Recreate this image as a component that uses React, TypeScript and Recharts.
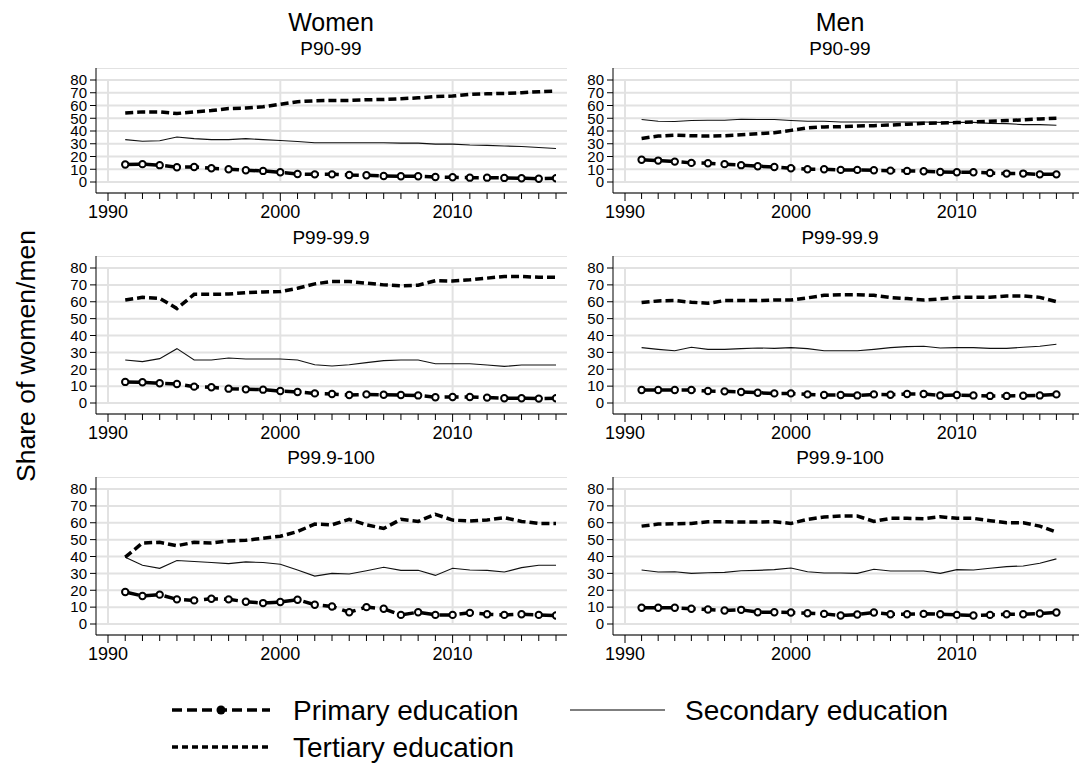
import React from 'react';
import { LineChart, Line, XAxis, YAxis, CartesianGrid, ReferenceLine } from 'recharts';

const FONT = '"Liberation Sans", Arial, Helvetica, sans-serif';

const years = [
  1991, 1992, 1993, 1994, 1995, 1996, 1997, 1998, 1999, 2000, 2001, 2002, 2003,
  2004, 2005, 2006, 2007, 2008, 2009, 2010, 2011, 2012, 2013, 2014, 2015, 2016,
];
const yTicks = [0, 10, 20, 30, 40, 50, 60, 70, 80];
const decadeTicks = [1990, 2000, 2010];
const yearTicks = [
  1990, 1991, 1992, 1993, 1994, 1995, 1996, 1997, 1998, 1999, 2000, 2001, 2002, 2003,
  2004, 2005, 2006, 2007, 2008, 2009, 2010, 2011, 2012, 2013, 2014, 2015, 2016, 2017,
];

// Women, P90-99
const womenP90Primary = [13.7, 14, 13.2, 11.6, 11.8, 10.8, 10, 9.2, 8.7, 7.6, 6.3, 6, 6, 5.5, 5.3, 4.7, 4.5, 4.5, 3.9, 3.7, 3.4, 3.4, 3.2, 2.9, 2.6, 2.9];
const womenP90Secondary = [33.2, 32, 32.4, 35.3, 34, 33.2, 33.2, 34, 33.2, 32.6, 31.8, 30.8, 30.8, 30.8, 30.8, 30.8, 30.5, 30.5, 29.7, 29.7, 29, 28.7, 28.2, 27.9, 27.1, 26.3];
const womenP90Tertiary = [54.2, 55, 55, 53.7, 55, 56, 57.6, 58, 59, 61, 63, 63.7, 64, 64, 64.5, 64.7, 65.3, 66, 67, 67.4, 68.7, 69.2, 69.5, 70, 70.8, 71.3];

// Men, P90-99
const menP90Primary = [17.4, 16.8, 16, 15, 14.7, 14, 13.2, 12.4, 11.8, 10.8, 10, 10, 9.5, 9.5, 9.2, 8.9, 8.7, 8.4, 7.9, 7.6, 7.6, 7.1, 6.6, 6.6, 6, 6];
const menP90Secondary = [49, 47.6, 47.4, 48.2, 48.4, 48.4, 49.2, 49, 49, 48.2, 47.6, 47.6, 47.1, 47.1, 47.1, 47.1, 47.1, 47.1, 46.8, 46.8, 46.8, 46, 45.8, 45, 45, 44.5];
const menP90Tertiary = [34.2, 36, 36.8, 36.3, 36, 36.3, 37, 37.9, 38.7, 40.5, 42.4, 43.2, 43.4, 43.9, 44.2, 44.7, 45.3, 46, 46.3, 46.6, 47.1, 47.6, 48.2, 48.7, 49.5, 50];

// Women, P99-99.9
const womenP99Primary = [12.5, 12.3, 11.7, 11.3, 9.7, 9.3, 8.5, 8.1, 7.9, 7.1, 6.5, 5.7, 5.3, 4.7, 5.1, 4.9, 4.7, 4.5, 3.4, 3.6, 3.6, 3.2, 2.8, 2.8, 2.6, 2.8];
const womenP99Secondary = [25.5, 24.5, 26.3, 32.2, 25.5, 25.5, 26.7, 26.1, 26.1, 26.1, 25.5, 22.7, 21.9, 22.7, 23.9, 25.1, 25.5, 25.5, 23.3, 23.3, 23.3, 22.5, 21.7, 22.5, 22.5, 22.5];
const womenP99Tertiary = [61, 62.6, 62, 56, 64.4, 64.4, 64.6, 65.4, 65.8, 66, 68, 70.6, 72, 72, 71, 70, 69.4, 69.8, 72.5, 72.3, 73, 74, 75, 75, 74.5, 74.5];

// Men, P99-99.9
const menP99Primary = [7.7, 7.7, 7.7, 7.7, 7.1, 6.9, 6.5, 6.1, 5.7, 5.7, 5.1, 4.7, 4.7, 4.5, 5.1, 4.9, 5.3, 5.3, 4.5, 4.7, 4.5, 4.2, 4.2, 4.3, 4.5, 5.1];
const menP99Secondary = [32.8, 31.8, 31, 33, 31.8, 31.8, 32.2, 32.6, 32.4, 32.8, 32.2, 31, 31, 31, 31.8, 32.8, 33.4, 33.6, 32.6, 32.8, 32.8, 32.4, 32.4, 33, 33.6, 34.8];
const menP99Tertiary = [59.5, 60.5, 60.7, 59.7, 59.1, 60.7, 60.7, 60.7, 61, 61, 62.3, 63.8, 64.2, 64.2, 63.8, 62.5, 61.9, 61, 61.7, 62.6, 62.6, 62.6, 63.4, 63.4, 62.6, 60.1];

// Women, P99.9-100
const womenTopPrimary = [19, 16.6, 17.4, 14.6, 14, 15, 14.6, 13.2, 12.4, 13, 14.4, 11.4, 10.4, 7, 10, 9, 5.4, 7, 5.4, 5.4, 6.6, 5.8, 5.4, 5.8, 5.4, 5];
const womenTopSecondary = [39.6, 34.8, 33, 37.6, 37, 36.4, 35.8, 36.8, 36.4, 35.4, 32, 28.4, 30, 29.6, 31.6, 33.6, 31.8, 31.8, 28.8, 33, 32, 31.8, 30.8, 33.4, 34.8, 34.8];
const womenTopTertiary = [39.6, 48, 48.4, 46.4, 48.4, 48, 49.2, 49.6, 50.8, 52, 54.8, 59.2, 58.8, 62, 58.8, 56.6, 62, 60.8, 65, 61.6, 61, 61.6, 63, 60.8, 59.6, 59.6];

// Men, P99.9-100
const menTopPrimary = [9.6, 9.6, 9.6, 9, 8.6, 8, 8.4, 7, 7, 6.8, 6.4, 6, 5, 5.6, 6.8, 5.8, 5.8, 6, 5.8, 5.4, 5, 5.4, 5.8, 5.8, 6.2, 6.8];
const menTopSecondary = [32, 30.8, 31, 30, 30.4, 30.6, 31.6, 31.8, 32.2, 33.2, 31, 30.2, 30.2, 30, 32.4, 31.4, 31.4, 31.4, 30, 32.2, 32, 33, 34, 34.4, 36, 38.6];
const menTopTertiary = [58, 59.2, 59.4, 59.6, 60.6, 60.6, 60.4, 60.4, 60.6, 59.6, 62, 63.4, 64, 64, 60.8, 62.6, 62.6, 62.4, 63.6, 62.6, 62.6, 61.2, 60, 60, 58, 54.4];

const GRID = '#e2e2e2';
const X_AXIS_H = 40;
const Y_AXIS_W = 56;

const buildRows = (primary: number[], secondary: number[], tertiary: number[]) =>
  years.map((year, i) => ({ year, primary: primary[i], secondary: secondary[i], tertiary: tertiary[i] }));

const YearTick = (props: any) => {
  const { x, y, payload } = props;
  const major = decadeTicks.includes(payload.value);
  return (
    <g>
      <line x1={x} x2={x} y1={y} y2={y + (major ? 8 : 6)} stroke="#000" strokeWidth={1} />
      {major && (
        <text x={x} y={y + 25} textAnchor="middle" fontSize={18} fontFamily={FONT} fill="#000">
          {payload.value}
        </text>
      )}
    </g>
  );
};

interface PanelProps {
  left: number;
  top: number;
  width: number;
  plotHeight: number;
  xMax: number;
  padRight: number;
  primary: number[];
  secondary: number[];
  tertiary: number[];
}

const Panel: React.FC<PanelProps> = ({ left, top, width, plotHeight, xMax, padRight, primary, secondary, tertiary }) => {
  const rows = buildRows(primary, secondary, tertiary);
  return (
    <div style={{ position: 'absolute', left, top }}>
      <LineChart width={width} height={plotHeight + X_AXIS_H} data={rows} margin={{ top: 0, right: 0, bottom: 0, left: 0 }}>
        <CartesianGrid vertical={false} stroke={GRID} strokeWidth={2} />
        {decadeTicks.map((d) => (
          <ReferenceLine key={d} segment={[{ x: d, y: 0 }, { x: d, y: 80 }]} stroke={GRID} strokeWidth={2} />
        ))}
        <XAxis
          type="number"
          dataKey="year"
          domain={[1990, xMax]}
          ticks={yearTicks.filter((t) => t <= xMax)}
          interval={0}
          padding={{ left: 12, right: padRight }}
          height={X_AXIS_H}
          tickSize={0}
          tickMargin={0}
          tickLine={false}
          tick={<YearTick />}
          axisLine={{ stroke: '#000' }}
          allowDataOverflow
        />
        <YAxis
          type="number"
          domain={[0, 80]}
          ticks={yTicks}
          interval={0}
          width={Y_AXIS_W}
          padding={{ top: 12, bottom: 11 }}
          tickSize={6}
          tickMargin={3}
          tick={{ fontSize: 15, fill: '#000', fontFamily: FONT }}
          tickLine={{ stroke: '#000' }}
          axisLine={{ stroke: '#000' }}
        />
        <Line dataKey="secondary" stroke="#111" strokeWidth={1.1} dot={false} isAnimationActive={false} />
        <Line dataKey="tertiary" stroke="#000" strokeWidth={3.5} strokeDasharray="8 4" dot={false} isAnimationActive={false} />
        <Line
          dataKey="primary"
          stroke="none"
          dot={{ r: 3.2, fill: '#fff', stroke: '#000', strokeWidth: 2 }}
          isAnimationActive={false}
        />
        <Line dataKey="primary" stroke="#000" strokeWidth={3.5} strokeDasharray="14 6" dot={false} isAnimationActive={false} />
      </LineChart>
    </div>
  );
};

const WOMEN_LEFT = 40;
const MEN_LEFT = 557;
const WOMEN_W = 527;
const MEN_W = 522;

export default function App() {
  return (
    <div style={{ position: 'absolute', left: 0, top: 0, width: 1079, height: 764, background: '#fff', fontFamily: FONT }}>
      <svg width={1079} height={764} style={{ position: 'absolute', left: 0, top: 0 }}>
        <text x={331} y={31} textAnchor="middle" fontSize={25} fontFamily={FONT}>Women</text>
        <text x={840} y={31} textAnchor="middle" fontSize={25} fontFamily={FONT}>Men</text>
        <text x={331} y={55} textAnchor="middle" fontSize={19} fontFamily={FONT}>P90-99</text>
        <text x={840} y={55} textAnchor="middle" fontSize={19} fontFamily={FONT}>P90-99</text>
        <text x={331} y={244} textAnchor="middle" fontSize={19} fontFamily={FONT}>P99-99.9</text>
        <text x={840} y={244} textAnchor="middle" fontSize={19} fontFamily={FONT}>P99-99.9</text>
        <text x={331} y={464} textAnchor="middle" fontSize={19} fontFamily={FONT}>P99.9-100</text>
        <text x={840} y={464} textAnchor="middle" fontSize={19} fontFamily={FONT}>P99.9-100</text>
        <text transform="translate(35, 356) rotate(-90)" textAnchor="middle" fontSize={26.5} fontFamily={FONT}>
          Share of women/men
        </text>

        {/* legend */}
        <line x1={172} x2={270} y1={710} y2={710} stroke="#000" strokeWidth={3.5} strokeDasharray="10 5" />
        <circle cx={221} cy={710} r={4.5} fill="#000" />
        <text x={293} y={720} fontSize={28} fontFamily={FONT}>Primary education</text>
        <line x1={570} x2={665} y1={710} y2={710} stroke="#000" strokeWidth={1.2} />
        <text x={685} y={720} fontSize={28} fontFamily={FONT}>Secondary education</text>
        <line x1={172} x2={270} y1={747} y2={747} stroke="#000" strokeWidth={3.5} strokeDasharray="6 4" />
        <text x={293} y={757} fontSize={28} fontFamily={FONT}>Tertiary education</text>
      </svg>

      <Panel left={WOMEN_LEFT} top={68} width={WOMEN_W} plotHeight={125} xMax={2016} padRight={11}
        primary={womenP90Primary} secondary={womenP90Secondary} tertiary={womenP90Tertiary} />
      <Panel left={MEN_LEFT} top={68} width={MEN_W} plotHeight={125} xMax={2017} padRight={6}
        primary={menP90Primary} secondary={menP90Secondary} tertiary={menP90Tertiary} />
      <Panel left={WOMEN_LEFT} top={256} width={WOMEN_W} plotHeight={158} xMax={2016} padRight={11}
        primary={womenP99Primary} secondary={womenP99Secondary} tertiary={womenP99Tertiary} />
      <Panel left={MEN_LEFT} top={256} width={MEN_W} plotHeight={158} xMax={2017} padRight={6}
        primary={menP99Primary} secondary={menP99Secondary} tertiary={menP99Tertiary} />
      <Panel left={WOMEN_LEFT} top={477} width={WOMEN_W} plotHeight={158} xMax={2016} padRight={11}
        primary={womenTopPrimary} secondary={womenTopSecondary} tertiary={womenTopTertiary} />
      <Panel left={MEN_LEFT} top={477} width={MEN_W} plotHeight={158} xMax={2017} padRight={6}
        primary={menTopPrimary} secondary={menTopSecondary} tertiary={menTopTertiary} />
    </div>
  );
}
